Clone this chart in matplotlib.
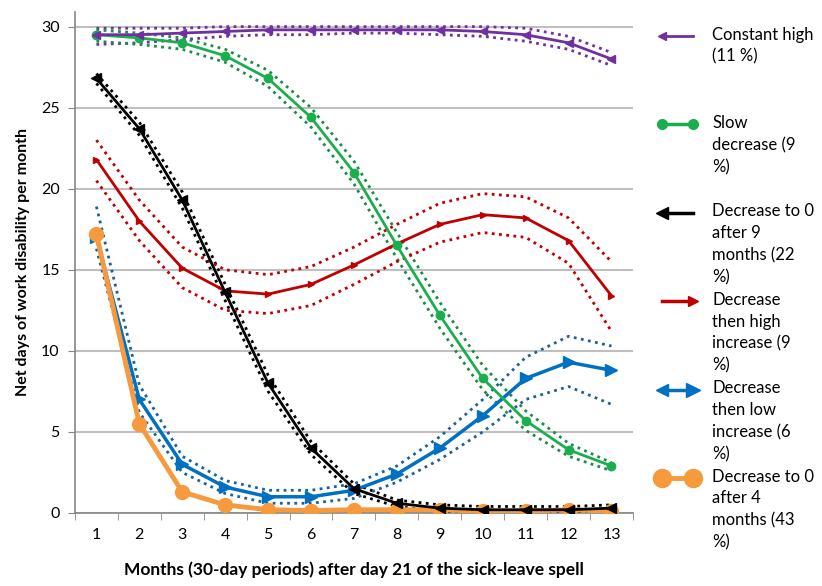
import matplotlib
matplotlib.use('Agg')
import matplotlib.pyplot as plt
from matplotlib.lines import Line2D
import numpy as np

plt.rcParams['font.family'] = ['Lato', 'DejaVu Sans']

months = np.arange(1, 14)

# trajectory means and dotted confidence bands
const_high = [29.5, 29.5, 29.6, 29.7, 29.8, 29.8, 29.8, 29.8, 29.8, 29.7, 29.5, 29.0, 28.0]
const_high_up = [29.9, 29.9, 29.9, 30.0, 30.0, 30.0, 30.0, 30.0, 30.0, 30.0, 29.9, 29.4, 28.4]
const_high_lo = [28.9, 29.0, 29.2, 29.4, 29.5, 29.5, 29.6, 29.6, 29.5, 29.4, 29.1, 28.6, 27.6]

slow_dec = [29.5, 29.3, 29.0, 28.2, 26.8, 24.4, 21.0, 16.5, 12.2, 8.3, 5.7, 3.9, 2.9]
slow_dec_up = [29.8, 29.6, 29.3, 28.6, 27.3, 25.0, 21.7, 17.3, 13.0, 9.1, 6.3, 4.3, 3.1]
slow_dec_lo = [29.1, 28.9, 28.6, 27.8, 26.3, 23.8, 20.3, 15.7, 11.4, 7.6, 5.1, 3.5, 2.6]

dec0_9 = [26.8, 23.7, 19.3, 13.6, 8.0, 4.0, 1.5, 0.6, 0.3, 0.2, 0.2, 0.2, 0.3]
dec0_9_up = [27.1, 24.1, 19.8, 14.1, 8.5, 4.4, 1.8, 0.8, 0.5, 0.4, 0.4, 0.4, 0.5]
dec0_9_lo = [26.5, 23.3, 18.8, 13.1, 7.5, 3.6, 1.2, 0.4, 0.1, 0.0, 0.0, 0.0, 0.1]

dec_high = [21.8, 18.0, 15.1, 13.7, 13.5, 14.1, 15.3, 16.6, 17.8, 18.4, 18.2, 16.8, 13.4]
dec_high_up = [23.0, 19.3, 16.4, 15.0, 14.7, 15.2, 16.4, 17.8, 19.1, 19.7, 19.5, 18.2, 15.5]
dec_high_lo = [20.5, 16.8, 13.9, 12.5, 12.3, 12.8, 14.1, 15.5, 16.7, 17.3, 17.0, 15.4, 11.2]

dec_low = [17.0, 7.0, 3.0, 1.6, 1.0, 1.0, 1.4, 2.4, 4.0, 6.0, 8.3, 9.3, 8.8]
dec_low_up = [18.9, 7.9, 3.5, 2.0, 1.4, 1.4, 1.8, 2.9, 4.7, 7.0, 9.6, 10.9, 10.3]
dec_low_lo = [16.3, 6.2, 2.5, 1.2, 0.6, 0.6, 0.9, 1.9, 3.3, 5.0, 7.0, 7.8, 6.7]

dec0_4 = [17.2, 5.5, 1.3, 0.5, 0.2, 0.15, 0.2, 0.2, 0.2, 0.1, 0.1, 0.2, 0.1]

labels = ['Constant high\n(11 %)',
          'Slow\ndecrease (9\n%)',
          'Decrease to 0\nafter 9\nmonths (22\n%)',
          'Decrease\nthen high\nincrease (9\n%)',
          'Decrease\nthen low\nincrease (6\n%)',
          'Decrease to 0\nafter 4\nmonths (43\n%)']

purple = '#7030A0'
green = '#1BAE4E'
black = '#000000'
red = '#C00000'
blue = '#0070C0'
orange = '#F79A3E'

fig = plt.figure(figsize=(8.22, 5.86), dpi=100)
ax = fig.add_axes([0.0912, 0.1246, 0.6788, 0.8549])

# dotted bands
for up, lo, c in [(const_high_up, const_high_lo, purple),
                  (slow_dec_up, slow_dec_lo, '#1E8C46'),
                  (dec0_9_up, dec0_9_lo, black),
                  (dec_high_up, dec_high_lo, red),
                  (dec_low_up, dec_low_lo, '#1F5F9A')]:
    ax.plot(months, up, linestyle=(0, (1, 1.6)), color=c, lw=2.0, zorder=3)
    ax.plot(months, lo, linestyle=(0, (1, 1.6)), color=c, lw=2.0, zorder=3)

ax.plot(months, dec_low, color=blue, lw=2.5, marker='>', ms=9, zorder=4)
ax.plot(months, dec0_4, color=orange, lw=3.5, marker='o', ms=10, zorder=5)
ax.plot(months, dec_high, color=red, lw=2.0, marker='>', ms=5, zorder=5)
ax.plot(months, dec0_9, color=black, lw=2.0, marker='<', ms=7, zorder=5)
ax.plot(months, slow_dec, color=green, lw=2.0, marker='o', ms=6, zorder=5)
ax.plot(months, const_high, color=purple, lw=2.0, marker='<', ms=6, zorder=5)

ax.set_xlim(0.5, 13.5)
ax.set_ylim(0, 30.9)
ax.set_yticks(range(0, 31, 5))
ax.set_xticks(months)
ax.set_xticks(np.arange(0.5, 14, 1), minor=True)
ax.tick_params(axis='x', which='major', length=0, labelsize=11.5, pad=11)
ax.tick_params(axis='x', which='minor', length=5, color='#868686', direction='out')
ax.tick_params(axis='y', length=5, color='#868686', labelsize=11.5, pad=6)
ax.grid(axis='y', color='#BFBFBF', lw=1.5, zorder=0)
ax.set_axisbelow(True)
for s in ['top', 'right']:
    ax.spines[s].set_visible(False)
for s in ['left', 'bottom']:
    ax.spines[s].set_color('#868686')
    ax.spines[s].set_linewidth(1.2)

ax.set_ylabel('Net days of work disability per month', fontsize=11.5, fontweight='bold', labelpad=8)
ax.set_xlabel('Months (30-day periods) after day 21 of the sick-leave spell', fontsize=12.5,
              fontweight='bold', labelpad=14)

# legend drawn by hand, entries evenly spaced like the original
samples = [(purple, 2.0, '<', None, 7),
           (green, 2.5, 'o', 'o', 7),
           (black, 2.5, '<', None, 10),
           (red, 2.5, None, '>', 7),
           (blue, 2.5, '<', '>', 10),
           (orange, 3.5, 'o', 'o', 13)]
x0, x1 = 662 / 822, 693 / 822
for i, (lab, (c, lw, m_left, m_right, ms)) in enumerate(zip(labels, samples)):
    yc = 1 - (36 + 88.4 * i) / 586
    fig.add_artist(Line2D([x0, x1], [yc, yc], color=c, lw=lw, transform=fig.transFigure))
    if m_left:
        fig.add_artist(Line2D([x0], [yc], color=c, marker=m_left, ms=ms if m_left == 'o' else ms * 0.8,
                              transform=fig.transFigure))
    if m_right:
        fig.add_artist(Line2D([x1], [yc], color=c, marker=m_right, ms=ms, transform=fig.transFigure))
    fig.text(712 / 822, yc + 0.016, lab, fontsize=12, va='top', ha='left', linespacing=1.45)

fig.savefig('out.png', dpi=100)
